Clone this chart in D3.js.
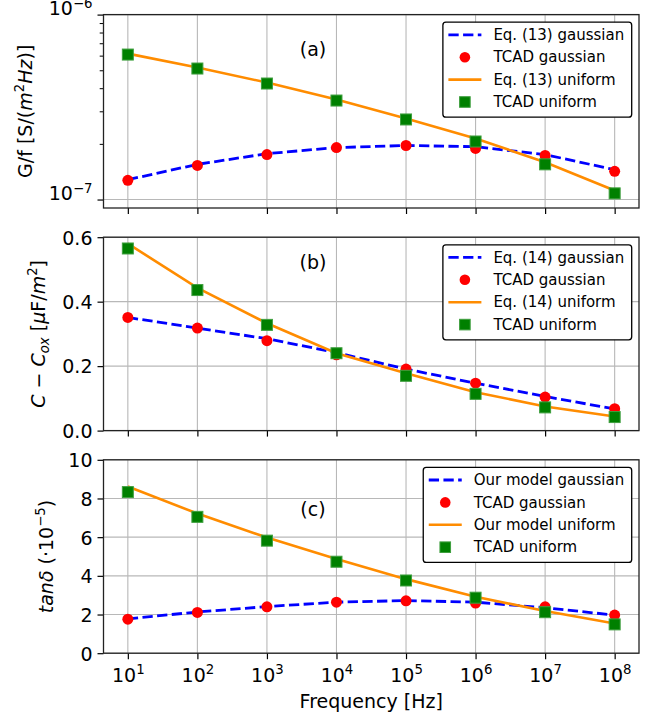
<!DOCTYPE html>
<html>
<head>
<meta charset="utf-8">
<script src="https://cdn.jsdelivr.net/npm/d3@7"></script>
<style>
  body { margin: 0; background: #fff; }
  text { font-family: "DejaVu Sans", sans-serif; fill: #000; }
</style>
</head>
<body>
<script>
// frequencies (x axis) and tick values
const freqs = [1e1, 1e2, 1e3, 1e4, 1e5, 1e6, 1e7, 1e8];
const xTicks = [1e1, 1e2, 1e3, 1e4, 1e5, 1e6, 1e7, 1e8];

// (a) G/f [S/(m^2 Hz)]
const gfEqGauss     = [1.28e-7, 1.55e-7, 1.77e-7, 1.91e-7, 1.96e-7, 1.93e-7, 1.75e-7, 1.45e-7];
const gfTcadGauss   = [1.27e-7, 1.53e-7, 1.75e-7, 1.91e-7, 1.96e-7, 1.89e-7, 1.73e-7, 1.42e-7];
const gfEqUniform   = [6.15e-7, 5.17e-7, 4.29e-7, 3.47e-7, 2.74e-7, 2.14e-7, 1.59e-7, 1.12e-7];
const gfTcadUniform = [6.08e-7, 5.11e-7, 4.24e-7, 3.43e-7, 2.71e-7, 2.06e-7, 1.55e-7, 1.08e-7];
const gfTicks      = [1e-7, 1e-6];
const gfTickLabels = ["\u22127", "\u22126"];
const gfMinorTicks = [2e-7, 3e-7, 4e-7, 5e-7, 6e-7, 7e-7, 8e-7, 9e-7];

// (b) C - Cox [uF/m^2]
const capEqGauss     = [0.351, 0.318, 0.285, 0.242, 0.191, 0.147, 0.106, 0.067];
const capTcadGauss   = [0.351, 0.318, 0.279, 0.235, 0.191, 0.147, 0.104, 0.068];
const capEqUniform   = [0.580, 0.443, 0.333, 0.240, 0.178, 0.119, 0.075, 0.044];
const capTcadUniform = [0.565, 0.436, 0.328, 0.240, 0.170, 0.114, 0.072, 0.042];
const capTicks = [0, 0.2, 0.4, 0.6];

// (c) tan delta (x 1e-5)
const tanEqGauss     = [1.78, 2.13, 2.41, 2.64, 2.72, 2.64, 2.35, 1.97];
const tanTcadGauss   = [1.76, 2.11, 2.40, 2.64, 2.71, 2.59, 2.40, 1.97];
const tanEqUniform   = [8.62, 7.22, 5.98, 4.87, 3.83, 2.92, 2.18, 1.54];
const tanTcadUniform = [8.33, 7.05, 5.82, 4.73, 3.76, 2.87, 2.12, 1.49];
const tanTicks = [0, 2, 4, 6, 8, 10];

const legendA = ["Eq. (13) gaussian", "TCAD gaussian", "Eq. (13) uniform", "TCAD uniform"];
const legendB = ["Eq. (14) gaussian", "TCAD gaussian", "Eq. (14) uniform", "TCAD uniform"];
const legendC = ["Our model gaussian", "TCAD gaussian", "Our model uniform", "TCAD uniform"];

const W = 655, H = 719;
const left = 103.5, right = 639, panelH = 193.4;
const fs = 19, legFs = 15;

const svg = d3.select("body").append("svg")
  .attr("width", W).attr("height", H)
  .attr("viewBox", [0, 0, W, H]);

const x = d3.scaleLog().domain([Math.pow(10, 0.65), Math.pow(10, 8.35)]).range([left, right]);

// appends math-like runs (italic / superscript / subscript) as tspans
function richText(sel, segs, size, supShift) {
  const up = supShift || 0.44;
  let cur = 0;
  segs.forEach(s => {
    const target = s.sup ? -up * size : s.sub ? 0.2 * size : 0;
    sel.append("tspan")
      .attr("dy", target - cur)
      .attr("font-size", (s.sup || s.sub) ? size * 0.7 : size)
      .attr("font-style", s.it ? "italic" : "normal")
      .text(s.t);
    cur = target;
  });
}

const panels = [
  {
    top: 14.6, log: true, domain: [9e-8, 1e-6], ticks: gfTicks, minor: gfMinorTicks,
    series: [gfEqGauss, gfTcadGauss, gfEqUniform, gfTcadUniform], legend: legendA,
    tag: "(a)", tagY: 41.5, labelX: 32,
    label: [{t: "G/f [S/("}, {t: "m", it: true}, {t: "2", sup: true}, {t: "Hz", it: true}, {t: ")]"}]
  },
  {
    top: 237.2, log: false, domain: [0, 0.6], ticks: capTicks,
    fmt: d3.format(".1f"),
    series: [capEqGauss, capTcadGauss, capEqUniform, capTcadUniform], legend: legendB,
    tag: "(b)", tagY: 32, labelX: 45,
    label: [{t: "C", it: true}, {t: " \u2212 "}, {t: "C", it: true}, {t: "ox", it: true, sub: true},
            {t: " ["}, {t: "\u03bc", it: true}, {t: "F/"}, {t: "m", it: true}, {t: "2", sup: true}, {t: "]"}]
  },
  {
    top: 459.8, log: false, domain: [0, 10], ticks: tanTicks,
    fmt: d3.format("d"),
    series: [tanEqGauss, tanTcadGauss, tanEqUniform, tanTcadUniform], legend: legendC,
    tag: "(c)", tagY: 56, labelX: 53, xLabels: true,
    label: [{t: "tan\u03b4", it: true}, {t: " (\u00b710"}, {t: "\u22125", sup: true}, {t: ")"}]
  }
];

panels.forEach(p => {
  const top = p.top, bottom = p.top + panelH;
  const y = (p.log ? d3.scaleLog() : d3.scaleLinear()).domain(p.domain).range([bottom, top]);
  const g = svg.append("g");

  // grid
  g.append("g").selectAll("line").data(xTicks).join("line")
    .attr("x1", d => x(d)).attr("x2", d => x(d))
    .attr("y1", top).attr("y2", bottom)
    .attr("stroke", "#b8b8b8").attr("stroke-width", 1.1);
  g.append("g").selectAll("line").data(p.ticks).join("line")
    .attr("x1", left).attr("x2", right)
    .attr("y1", d => y(d)).attr("y2", d => y(d))
    .attr("stroke", "#b8b8b8").attr("stroke-width", 1.1);

  const line = d3.line().x((d, i) => x(freqs[i])).y(d => y(d));
  const [eqG, tcG, eqU, tcU] = p.series;

  g.append("path").datum(eqG).attr("d", line)
    .attr("fill", "none").attr("stroke", "#0000ff").attr("stroke-width", 2.8)
    .attr("stroke-dasharray", "10.3,4.4");
  g.append("g").selectAll("circle").data(tcG).join("circle")
    .attr("cx", (d, i) => x(freqs[i])).attr("cy", d => y(d)).attr("r", 5.5)
    .attr("fill", "#ff0000");
  g.append("path").datum(eqU).attr("d", line)
    .attr("fill", "none").attr("stroke", "#ff8c00").attr("stroke-width", 2.6);
  g.append("g").selectAll("rect").data(tcU).join("rect")
    .attr("x", (d, i) => x(freqs[i]) - 5.5).attr("y", d => y(d) - 5.5)
    .attr("width", 11).attr("height", 11)
    .attr("fill", "#008000").attr("stroke", "#3f9f3f").attr("stroke-width", 1);

  // axes
  const xAxis = g.append("g").attr("transform", `translate(0,${bottom})`)
    .call(d3.axisBottom(x).tickValues(xTicks).tickSize(6).tickFormat(() => ""));
  xAxis.select(".domain").remove();
  xAxis.selectAll(".tick line").attr("stroke", "#000").attr("stroke-width", 1.2);
  if (p.xLabels) {
    xAxis.selectAll(".tick text").each(function (d) {
      const t = d3.select(this).text(null).attr("y", 29).attr("dy", 0).attr("fill", "#000");
      richText(t, [{t: "10"}, {t: String(Math.round(Math.log10(d))), sup: true}], fs);
    });
  }

  const yAxis = g.append("g").attr("transform", `translate(${left},0)`)
    .call(d3.axisLeft(y).tickValues(p.ticks).tickSize(6).tickPadding(5)
      .tickFormat(p.log ? () => "" : p.fmt));
  yAxis.select(".domain").remove();
  yAxis.attr("font-size", fs).attr("font-family", "DejaVu Sans");
  yAxis.selectAll(".tick line").attr("stroke", "#000").attr("stroke-width", 1.2);
  yAxis.selectAll(".tick text").attr("dy", "0.36em").attr("fill", "#000");
  if (p.log) {
    yAxis.selectAll(".tick text").each(function (d, i) {
      const t = d3.select(this).text(null);
      richText(t, [{t: "10"}, {t: gfTickLabels[i], sup: true}], fs, 0.38);
    });
    const minor = g.append("g").attr("transform", `translate(${left},0)`)
      .call(d3.axisLeft(y).tickValues(p.minor).tickSize(3.8).tickFormat(() => ""));
    minor.select(".domain").remove();
    minor.selectAll(".tick line").attr("stroke", "#000").attr("stroke-width", 1);
  }

  // spines
  g.append("rect").attr("x", left).attr("y", top)
    .attr("width", right - left).attr("height", panelH)
    .attr("fill", "none").attr("stroke", "#222").attr("stroke-width", 1.3);

  // panel tag
  g.append("text").attr("x", 313).attr("y", top + p.tagY)
    .attr("text-anchor", "middle").attr("font-size", fs).text(p.tag);

  // y label
  const yl = g.append("text")
    .attr("transform", `translate(${p.labelX},${(top + bottom) / 2}) rotate(-90)`)
    .attr("text-anchor", "middle").attr("font-size", fs);
  richText(yl, p.label, fs);

  // legend
  const leg = g.append("g");
  const box = leg.append("rect");
  const rowY = i => top + 20.2 + i * 22.4;
  const texts = leg.selectAll("text").data(p.legend).join("text")
    .attr("y", (d, i) => rowY(i) + 5.2)
    .attr("font-size", legFs).text(d => d);
  let maxW = 0;
  texts.each(function () { maxW = Math.max(maxW, this.getComputedTextLength()); });
  const boxRight = right - 7.3;
  const boxLeft = boxRight - (5.5 + 33 + 12 + maxW + 7.5);
  const hx0 = boxLeft + 5.5, hx1 = hx0 + 33, hm = (hx0 + hx1) / 2;
  texts.attr("x", hx1 + 12);
  box.attr("x", boxLeft).attr("y", top + 7.6)
    .attr("width", boxRight - boxLeft).attr("height", 95)
    .attr("rx", 3).attr("fill", "#fff").attr("stroke", "#000").attr("stroke-width", 1.3);
  leg.append("line").attr("x1", hx0).attr("x2", hx1).attr("y1", rowY(0)).attr("y2", rowY(0))
    .attr("stroke", "#0000ff").attr("stroke-width", 2.8).attr("stroke-dasharray", "10.3,4.4");
  leg.append("circle").attr("cx", hm).attr("cy", rowY(1)).attr("r", 5.3).attr("fill", "#ff0000");
  leg.append("line").attr("x1", hx0).attr("x2", hx1).attr("y1", rowY(2)).attr("y2", rowY(2))
    .attr("stroke", "#ff8c00").attr("stroke-width", 2.6);
  leg.append("rect").attr("x", hm - 5.3).attr("y", rowY(3) - 5.3).attr("width", 10.6).attr("height", 10.6)
    .attr("fill", "#008000").attr("stroke", "#3f9f3f").attr("stroke-width", 1);

  if (p.xLabels) {
    svg.append("text").attr("x", (left + right) / 2).attr("y", 708)
      .attr("text-anchor", "middle").attr("font-size", fs).text("Frequency [Hz]");
  }
});
</script>
</body>
</html>
